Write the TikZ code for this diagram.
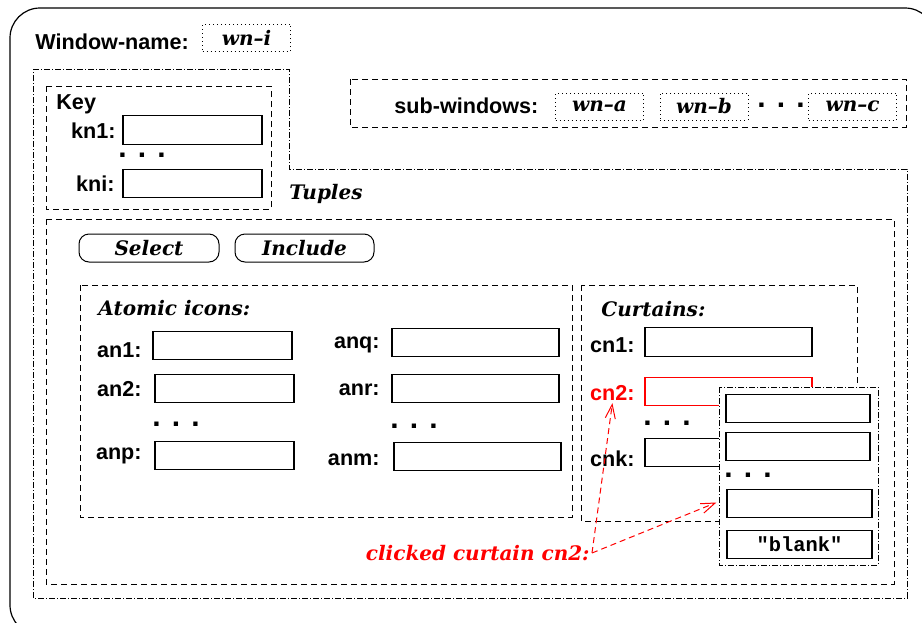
\documentclass[tikz,border=0pt]{standalone}
\usepackage{fontspec}
\setsansfont{Liberation Sans}
\setmonofont{Liberation Mono}
\newfontfamily\schfont[Ligatures=TeX]{DejaVu Serif}
\usetikzlibrary{arrows.meta,calc,positioning}

\begin{document}
\begin{tikzpicture}[x=0.5pt,y=-0.5pt,
	lab/.style={font=\sffamily\bfseries\fontsize{10.8}{12}\selectfont,inner sep=1pt},
	ital/.style={font=\schfont\bfseries\itshape\fontsize{10}{12}\selectfont,inner sep=1pt},
	dotsn/.style={font=\sffamily\bfseries\fontsize{15}{15}\selectfont,inner sep=0pt},
	field/.style={draw,line width=0.6pt,inner sep=0pt,minimum height=14.3pt},
	namebox/.style={draw,dash pattern=on 0.5pt off 1.5pt,line width=0.5pt,inner sep=0pt,
		minimum width=44pt,minimum height=13.5pt,font=\schfont\bfseries\itshape\fontsize{10}{12}\selectfont},
	button/.style={draw,rounded corners=5pt,line width=0.5pt,inner sep=0pt,
		minimum height=14pt,font=\schfont\bfseries\itshape\fontsize{10}{12}\selectfont},
	dashbox/.style={dash pattern=on 3pt off 2pt,line width=0.5pt},
	dotdash/.style={dash pattern=on 3pt off 1pt on 0.5pt off 1pt,line width=0.5pt},
	clicked/.style={red,dash pattern=on 3pt off 2pt,line width=0.5pt,
		-{Straight Barb[length=7pt,width=5pt]}}]
	\useasboundingbox (0,0) rectangle (922,622);
	% window frame
	\draw[line width=0.6pt,rounded corners=15pt] (10,8) rectangle (935,635);
	\node[lab,anchor=west] (wname) at (33,42) {Window-name:};
	\node[namebox] (wni) at (246.5,37.5) {wn--i};
	\draw[dotdash] (33,69) -- (289,69) -- (289,169) -- (907,169) -- (907,598) -- (33,598) -- cycle;
	% key
	\draw[dashbox] (46,86) rectangle (271,209);
	\node[lab,anchor=west] (key) at (54,104) {Key};
	\node[field,minimum width=69.5pt] (kn1) at (192.5,130) {};
	\node[field,minimum width=69.5pt] (kni) at (192.5,183.5) {};
	\node[lab,anchor=east] (kn1l) at (118,131) {kn1:};
	\node[lab,anchor=east] (knil) at (117,184) {kni:};
	\node[dotsn] (kdots) at (142,155) {. . .};
	% sub-windows
	\draw[dashbox] (350,79) rectangle (906,127);
	\node[lab,anchor=west] (subw) at (392,106) {sub-windows:};
	\node[namebox] (wna) at (599.5,106.5) {wn--a};
	\node[namebox] (wnb) at (704,106.5) {wn--b};
	\node[dotsn] (sdots) at (781,105) {. . .};
	\node[namebox] (wnc) at (852.5,106.5) {wn--c};
	% tuples
	\node[ital,anchor=west] (tuples) at (287,194) {Tuples};
	\draw[dashbox] (46,219) rectangle (894,584);
	\node[button,minimum width=70pt] (select) at (149,248) {Select};
	\node[button,minimum width=69.5pt] (include) at (304.5,248) {Include};
	% atomic icons
	\draw[dashbox] (80,285) rectangle (572,517);
	\node[ital,anchor=west] (atomic) at (96,308) {Atomic icons:};
	\node[field,minimum width=69.5pt] (an1) at (222.5,345.5) {};
	\node[field,minimum width=69.5pt] (an2) at (224.5,388.5) {};
	\node[field,minimum width=69.5pt] (anp) at (224.5,455.5) {};
	\node[lab,anchor=east] (an1l) at (144,350) {an1:};
	\node[lab,anchor=east] (an2l) at (144,389) {an2:};
	\node[lab,anchor=east] (anpl) at (144,456) {anp:};
	\node[dotsn] (adots1) at (176,424) {. . .};
	\node[field,minimum width=83.5pt] (anq) at (475.5,342.5) {};
	\node[field,minimum width=83.5pt] (anr) at (475.5,388.5) {};
	\node[field,minimum width=83.5pt] (anm) at (477.5,456.5) {};
	\node[lab,anchor=east] (anql) at (382,345) {anq:};
	\node[lab,anchor=east] (anrl) at (382,390) {anr:};
	\node[lab,anchor=east] (anml) at (382,460) {anm:};
	\node[dotsn] (adots2) at (414,426) {. . .};
	% curtains
	\draw[dashbox] (581,285) rectangle (857,521);
	\node[ital,anchor=west] (curtains) at (599,309) {Curtains:};
	\node[field,minimum width=83.5pt] (cn1) at (728.5,342) {};
	\node[field,minimum width=83.5pt,red] (cn2) at (728.5,391.5) {};
	\node[field,minimum width=83.5pt] (cnk) at (728.5,452.5) {};
	\node[lab,anchor=east] (cn1l) at (637,345) {cn1:};
	\node[lab,anchor=east,red] (cn2l) at (637,393) {cn2:};
	\node[lab,anchor=east] (cnkl) at (637,459) {cnk:};
	\node[dotsn] (cdots) at (667,423) {. . .};
	% popup of clicked curtain
	\draw[dotdash,fill=white] (719,387) rectangle (878,565);
	\node[field,minimum width=72pt] (pop1) at (798,408.5) {};
	\node[field,minimum width=72pt] (pop2) at (798,446.5) {};
	\node[dotsn] (pdots) at (748,475) {. . .};
	\node[field,minimum width=72.5pt] (pop3) at (799.5,503.5) {};
	\node[field,minimum width=72.5pt,font=\ttfamily\bfseries\fontsize{10.2}{12}\selectfont] (blank) at (799.5,544.5) {"blank"};
	\node[ital,red,anchor=east] (clk) at (592,553) {clicked curtain cn2:};
	\draw[clicked] (clk.east) -- (cn2l.south);
	\draw[clicked] (clk.east) -- ($(pop3.west)+(-10,-1)$);
\end{tikzpicture}
\end{document}
